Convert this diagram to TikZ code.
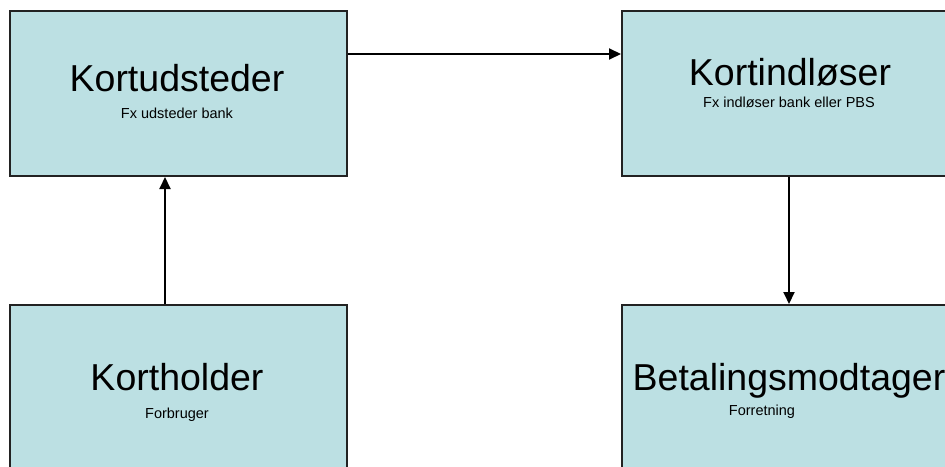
\documentclass[tikz,border=0pt]{standalone}
\usepackage{fontspec}
\setmainfont{Liberation Sans}
\usetikzlibrary{arrows.meta}
\definecolor{boxfill}{HTML}{BCE0E3}
\definecolor{boxline}{HTML}{222222}
\tikzset{
  party/.style={draw=boxline, fill=boxfill, line width=2pt, rectangle,
    minimum width=337pt, minimum height=165pt, inner sep=0pt, anchor=north west},
  title/.style={anchor=base, font=\fontsize{37.5}{40}\selectfont, inner sep=0pt},
  sub/.style={anchor=base, font=\fontsize{14.5}{16}\selectfont, inner sep=0pt},
  flow/.style={draw=black, line width=2pt, -{Triangle[length=12pt,width=11pt]}}
}
\begin{document}
\begin{tikzpicture}[x=1pt,y=-1pt]
  \useasboundingbox (0,0) rectangle (945,466);
  % the four parties
  \node[party] (udsteder) at (9,10) {};
  \node[party] (indloeser) at (621,10) {};
  \node[party] (holder) at (9,304) {};
  \node[party] (modtager) at (621,304) {};
  % labels
  \node[title] (t1) at (177,91) {Kortudsteder};
  \node[sub] (s1) at (177,118) {Fx udsteder bank};
  \node[title] (t2) at (790,85) {Kortindløser};
  \node[sub] (s2) at (789,107) {Fx indløser bank eller PBS};
  \node[title] (t3) at (177,390) {Kortholder};
  \node[sub] (s3) at (177,418) {Forbruger};
  \node[title] (t4) at (789,390) {Betalingsmodtager};
  \node[sub] (s4) at (762,415) {Forretning};
  % connector guides
  \coordinate (toprow) at (0,54);
  \coordinate (leftcol) at (165,0);
  \coordinate (rightcol) at (789,0);
  % flows between parties
  \draw[flow] (udsteder.east |- toprow) -- (indloeser.west |- toprow);
  \draw[flow] (holder.north -| leftcol) -- (udsteder.south -| leftcol);
  \draw[flow] (indloeser.south -| rightcol) -- (modtager.north -| rightcol);
\end{tikzpicture}
\end{document}
